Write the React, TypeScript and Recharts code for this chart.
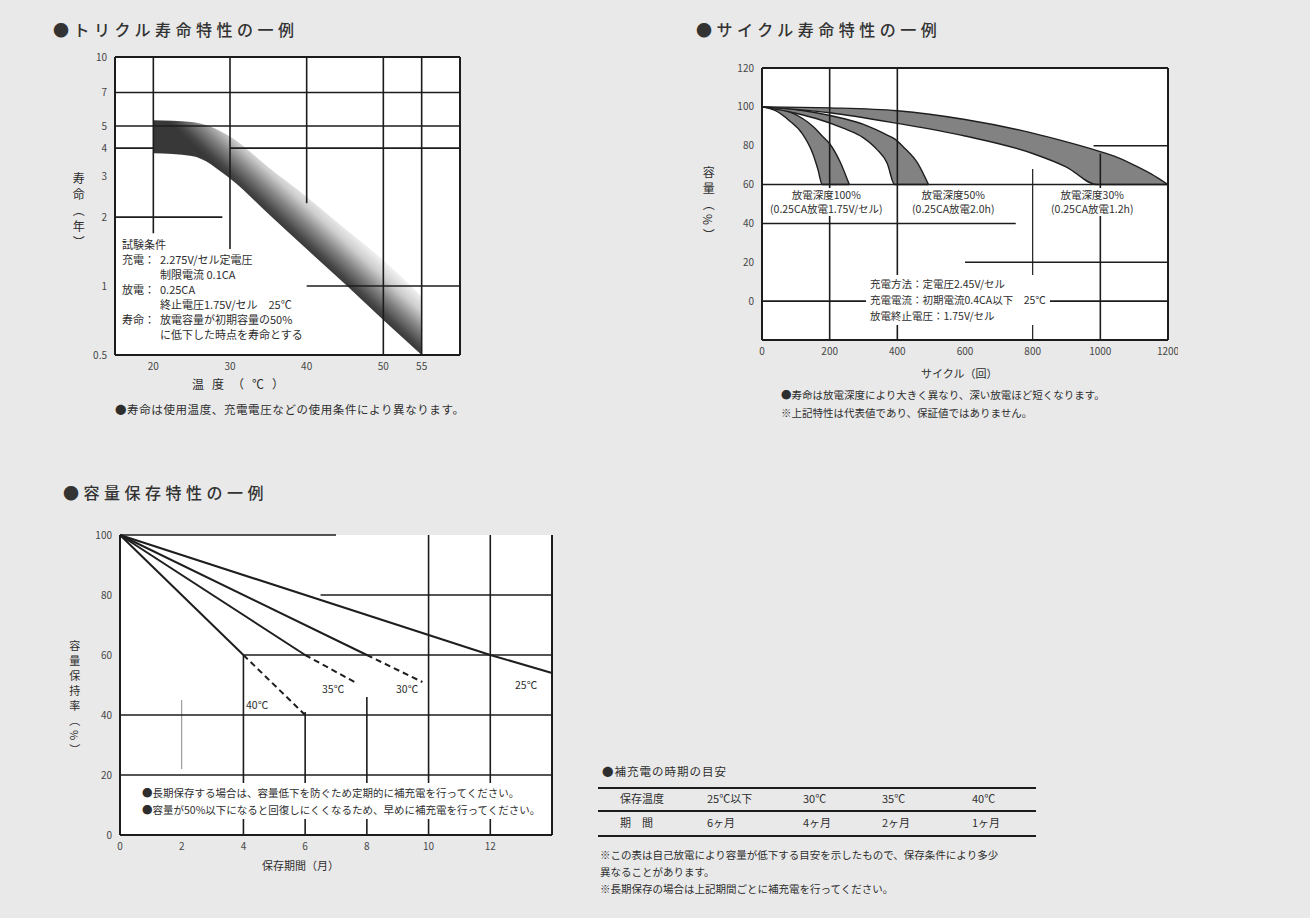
import React from "react";
import { ComposedChart, Area, Line, XAxis, YAxis, ReferenceLine } from "recharts";

const FONT = '"Noto Sans CJK JP", "Noto Sans", sans-serif';
const INK = "#2e2e2e";
const RULE = "#1c1c1c";

// トリクル寿命（温度 ℃ / 寿命 年）
const trickleTemps = [20, 25, 30, 35, 40, 45, 50, 55];
const trickleLow = [3.8, 3.7, 2.95, 2.07, 1.45, 1.02, 0.71, 0.5];
const trickleHigh = [5.3, 5.2, 4.5, 3.3, 2.45, 1.78, 1.3, 0.9];
const trickleTicksX = [20, 30, 40, 50, 55];
const trickleTicksY = [0.5, 1, 2, 3, 4, 5, 7, 10];

// サイクル寿命（サイクル数 / 容量 %）
const cycA = [0, 40, 80, 120, 150, 165, 178, 200, 230, 258];
const cycALow = [100, 98, 93, 86, 76, 68, 60, 60, 60, 60];
const cycAHigh = [100, 99.5, 97.5, 94, 90, 87.5, 85, 81, 72, 60];
const cycB = [0, 80, 160, 240, 300, 340, 370, 392, 420, 460, 492];
const cycBLow = [100, 97.5, 94, 89, 84, 78, 71, 60, 60, 60, 60];
const cycBHigh = [100, 99, 97, 94, 91, 88, 85.5, 83.5, 79, 71, 60];
const cycC = [0, 200, 400, 600, 800, 900, 990, 1050, 1100, 1150, 1200];
const cycCLow = [100, 97, 91.5, 85, 76, 69, 60, 60, 60, 60, 60];
const cycCHigh = [100, 99.5, 98, 93.5, 86.5, 82, 77.5, 74, 70, 65.5, 60];
const cycleTicksX = [0, 200, 400, 600, 800, 1000, 1200];
const cycleTicksY = [0, 20, 40, 60, 80, 100, 120];

// 容量保存（保存期間 月 / 容量保持率 %）
const months40 = [0, 4, 6];
const remain40 = [100, 60, 40];
const months35 = [0, 6, 7.6];
const remain35 = [100, 60, 51];
const months30 = [0, 8, 9.8];
const remain30 = [100, 60, 51];
const months25 = [0, 12, 14];
const remain25 = [100, 60, 54];
const storeTicksX = [0, 2, 4, 6, 8, 10, 12];
const storeTicksY = [0, 20, 40, 60, 80, 100];

const tableHead = ["保存温度", "25℃以下", "30℃", "35℃", "40℃"];
const tableRow = ["期　間", "6ヶ月", "4ヶ月", "2ヶ月", "1ヶ月"];

const tickStyle = { fontSize: 10, fill: "#474747", fontFamily: FONT };
const axisStyle = { stroke: RULE, strokeWidth: 2 };
const margin = { top: 10, right: 10, left: 0, bottom: 0 };

const pts = (xs: number[], ys: number[], from = 0, to = xs.length) =>
  xs.slice(from, to).map((x, i) => ({ x, y: ys[from + i] }));

const band = (xs: number[], lo: number[], hi: number[]) =>
  xs.map((x, i) => ({ x, r: [lo[i], hi[i]] }));

const Txt = ({ x, y, size = 11, style, children }: any) => (
  <div
    style={{
      position: "absolute",
      left: x,
      top: y,
      fontSize: size,
      lineHeight: 1.35,
      color: INK,
      whiteSpace: "nowrap",
      ...style,
    }}
  >
    {children}
  </div>
);

const seg = (x1: number, y1: number, x2: number, y2: number, key: string, w = 1.6, c = RULE) => (
  <ReferenceLine
    key={key}
    segment={[
      { x: x1, y: y1 },
      { x: x2, y: y2 },
    ]}
    stroke={c}
    strokeWidth={w}
  />
);

const TrickleChart = () => (
  <ComposedChart width={400} height={338} data={band(trickleTemps, trickleLow, trickleHigh)} margin={margin}>
    <defs>
      {/* fade runs across the band: dark lower edge, soft upper edge */}
      <linearGradient id="trickleFade" gradientUnits="userSpaceOnUse" x1="236" y1="202" x2="272" y2="163">
        <stop offset="0" stopColor="#383838" />
        <stop offset="0.1" stopColor="#464646" />
        <stop offset="0.35" stopColor="#858585" />
        <stop offset="0.6" stopColor="#cdcdcd" />
        <stop offset="0.85" stopColor="#f4f4f4" />
      </linearGradient>
    </defs>
    <XAxis dataKey="x" type="number" domain={[15, 60]} ticks={trickleTicksX} height={30} tick={tickStyle} tickLine={false} axisLine={axisStyle} />
    <YAxis type="number" scale="log" domain={[0.5, 10]} ticks={trickleTicksY} allowDataOverflow width={45} tick={tickStyle} tickLine={false} axisLine={axisStyle} />
    {seg(20, 1.7, 20, 10, "v20")}
    {seg(30, 1.45, 30, 10, "v30")}
    {seg(40, 2.3, 40, 10, "v40")}
    {seg(50, 0.5, 50, 10, "v50")}
    {seg(55, 0.5, 55, 10, "v55")}
    {seg(15, 7, 60, 7, "h7")}
    {seg(15, 5, 60, 5, "h5")}
    {seg(15, 4, 20, 4, "h4a")}
    {seg(30, 4, 60, 4, "h4b")}
    {seg(15, 2, 29, 2, "h2")}
    {seg(40, 1, 60, 1, "h1")}
    <Area dataKey="r" type="monotone" stroke="none" fill="url(#trickleFade)" fillOpacity={1} isAnimationActive={false} />
    {seg(15, 10, 60, 10, "top", 2)}
    {seg(60, 0.5, 60, 10, "right", 2)}
  </ComposedChart>
);

const bandProps = {
  type: "monotone" as const,
  stroke: "#1e1e1e",
  strokeWidth: 1.4,
  fill: "#828282",
  fillOpacity: 1,
  isAnimationActive: false,
};

const CycleChart = () => (
  <ComposedChart width={461} height={312} margin={margin}>
    <XAxis dataKey="x" type="number" domain={[0, 1200]} ticks={cycleTicksX} height={30} tick={tickStyle} tickLine={false} axisLine={axisStyle} />
    <YAxis type="number" domain={[-20, 120]} ticks={cycleTicksY} allowDataOverflow width={45} tick={tickStyle} tickLine={false} axisLine={axisStyle} />
    {seg(200, -20, 200, 120, "v200")}
    {seg(400, -20, 400, 120, "v400")}
    {seg(800, -20, 800, 68, "v800", 1.2)}
    {seg(1000, -20, 1000, 76, "v1000")}
    {seg(980, 80, 1200, 80, "h80")}
    {seg(0, 60, 1200, 60, "h60")}
    {seg(0, 40, 750, 40, "h40")}
    {seg(600, 20, 1200, 20, "h20")}
    {seg(0, 0, 1200, 0, "h0")}
    <Area data={band(cycA, cycALow, cycAHigh)} dataKey="r" {...bandProps} />
    <Area data={band(cycB, cycBLow, cycBHigh)} dataKey="r" {...bandProps} />
    <Area data={band(cycC, cycCLow, cycCHigh)} dataKey="r" {...bandProps} />
    {seg(0, 120, 1200, 120, "top", 2)}
    {seg(1200, -20, 1200, 120, "right", 2)}
  </ComposedChart>
);

const lineProps = {
  dataKey: "y",
  type: "linear" as const,
  stroke: "#1e1e1e",
  strokeWidth: 2,
  dot: false,
  isAnimationActive: false,
};

const StorageChart = () => (
  <ComposedChart width={487} height={340} margin={margin}>
    <XAxis dataKey="x" type="number" domain={[0, 14]} ticks={storeTicksX} height={30} tick={tickStyle} tickLine={false} axisLine={axisStyle} />
    <YAxis type="number" domain={[0, 100]} ticks={storeTicksY} width={45} tick={tickStyle} tickLine={false} axisLine={axisStyle} />
    {seg(2, 22, 2, 45, "v2", 1, "#8a8a8a")}
    {seg(4, 0, 4, 60, "v4")}
    {seg(6, 0, 6, 41, "v6")}
    {seg(8, 0, 8, 46, "v8")}
    {seg(10, 0, 10, 100, "v10")}
    {seg(12, 0, 12, 100, "v12")}
    {seg(6.5, 80, 14, 80, "h80")}
    {seg(4, 60, 14, 60, "h60")}
    {seg(0, 40, 14, 40, "h40")}
    {seg(0, 20, 14, 20, "h20")}
    <Line data={pts(months40, remain40, 0, 2)} {...lineProps} />
    <Line data={pts(months40, remain40, 1, 3)} {...lineProps} strokeDasharray="6 4" />
    <Line data={pts(months35, remain35, 0, 2)} {...lineProps} />
    <Line data={pts(months35, remain35, 1, 3)} {...lineProps} strokeDasharray="6 4" />
    <Line data={pts(months30, remain30, 0, 2)} {...lineProps} />
    <Line data={pts(months30, remain30, 1, 3)} {...lineProps} strokeDasharray="6 4" />
    <Line data={pts(months25, remain25)} {...lineProps} />
    {seg(0, 100, 7, 100, "top", 1.4)}
    {seg(14, 0, 14, 100, "right", 2)}
  </ComposedChart>
);

const Title = ({ x, y, children }: any) => (
  <Txt x={x} y={y} size={16} style={{ letterSpacing: 4.5, color: "#333", fontWeight: 500 }}>
    {children}
  </Txt>
);

const VLabel = ({ x, y, children, size = 12 }: any) => (
  <Txt x={x} y={y} size={size} style={{ writingMode: "vertical-rl", letterSpacing: 4 }}>
    {children}
  </Txt>
);

const white = { background: "#ffffff" };

export default function App() {
  const colX = [620, 707, 803, 882, 972];
  return (
    <div
      style={{
        position: "absolute",
        left: 0,
        top: 0,
        width: 1310,
        height: 918,
        overflow: "hidden",
        background: "#e9e9e9",
        fontFamily: FONT,
      }}
    >
      {/* plot backgrounds */}
      <div style={{ position: "absolute", left: 115, top: 57, width: 345, height: 298, ...white }} />
      <div style={{ position: "absolute", left: 762, top: 68, width: 406, height: 272, ...white }} />
      <div style={{ position: "absolute", left: 120, top: 535, width: 432, height: 300, ...white }} />

      <Title x={53} y={19}>●トリクル寿命特性の一例</Title>
      <Title x={696} y={19}>●サイクル寿命特性の一例</Title>
      <Title x={63} y={482}>●容量保存特性の一例</Title>

      <div style={{ position: "absolute", left: 70, top: 47 }}>
        <TrickleChart />
      </div>
      <div style={{ position: "absolute", left: 717, top: 58 }}>
        <CycleChart />
      </div>
      <div style={{ position: "absolute", left: 75, top: 525 }}>
        <StorageChart />
      </div>

      {/* chart 1 texts */}
      <VLabel x={70} y={172}>寿命（年）</VLabel>
      <Txt x={192} y={376} size={12} style={{ letterSpacing: 8 }}>温度（℃）</Txt>
      <div
        style={{
          position: "absolute",
          left: 118,
          top: 236,
          padding: "1px 4px 0 4px",
          fontSize: 11,
          lineHeight: "15px",
          color: INK,
          whiteSpace: "nowrap",
          display: "grid",
          gridTemplateColumns: "38px auto",
        }}
      >
        <span style={{ gridColumn: "1 / 3" }}>試験条件</span>
        <span>充電：</span><span>2.275V/セル定電圧</span>
        <span></span><span>制限電流 0.1CA</span>
        <span>放電：</span><span>0.25CA</span>
        <span></span><span>終止電圧1.75V/セル　25℃</span>
        <span>寿命：</span><span>放電容量が初期容量の50%</span>
        <span></span><span>に低下した時点を寿命とする</span>
      </div>
      <Txt x={115} y={402} size={11.5} style={{ letterSpacing: 0.6 }}>
        ●寿命は使用温度、充電電圧などの使用条件により異なります。
      </Txt>

      {/* chart 2 texts */}
      <VLabel x={700} y={166}>容量（%）</VLabel>
      <Txt x={921} y={366} size={11}>サイクル（回）</Txt>
      <Txt x={768} y={188} size={10.5} style={{ ...white, textAlign: "center", padding: "0 2px" }}>
        放電深度100%<br />(0.25CA放電1.75V/セル)
      </Txt>
      <Txt x={908} y={188} size={10.5} style={{ ...white, textAlign: "center", padding: "0 4px" }}>
        放電深度50%<br />(0.25CA放電2.0h)
      </Txt>
      <Txt x={1047} y={188} size={10.5} style={{ ...white, textAlign: "center", padding: "0 4px" }}>
        放電深度30%<br />(0.25CA放電1.2h)
      </Txt>
      <Txt x={866} y={275} size={10.5} style={{ ...white, padding: "1px 4px", lineHeight: "16px" }}>
        充電方法：定電圧2.45V/セル<br />
        充電電流：初期電流0.4CA以下　25℃<br />
        放電終止電圧：1.75V/セル
      </Txt>
      <Txt x={781} y={386} size={10.5} style={{ lineHeight: "18px" }}>
        ●寿命は放電深度により大きく異なり、深い放電ほど短くなります。<br />
        ※上記特性は代表値であり、保証値ではありません。
      </Txt>

      {/* chart 3 texts */}
      <VLabel x={67} y={640} size={11}>容量保持率（%）</VLabel>
      <Txt x={262} y={858} size={11}>保存期間（月）</Txt>
      <Txt x={246} y={698} size={10.5} style={{ background: "#fff" }}>40℃</Txt>
      <Txt x={322} y={682} size={10.5} style={{ background: "#fff" }}>35℃</Txt>
      <Txt x={396} y={682} size={10.5} style={{ background: "#fff" }}>30℃</Txt>
      <Txt x={515} y={678} size={10.5} style={{ background: "#fff" }}>25℃</Txt>
      <Txt x={138} y={783} size={10.5} style={{ ...white, padding: "1px 4px", lineHeight: "17px" }}>
        ●長期保存する場合は、容量低下を防ぐため定期的に補充電を行ってください。<br />
        ●容量が50%以下になると回復しにくくなるため、早めに補充電を行ってください。
      </Txt>

      {/* table */}
      <Txt x={602} y={764} size={11.5} style={{ letterSpacing: 1 }}>●補充電の時期の目安</Txt>
      <div style={{ position: "absolute", left: 598, top: 787, width: 438, height: 2, background: RULE }} />
      <div style={{ position: "absolute", left: 598, top: 810, width: 438, height: 1.5, background: RULE }} />
      <div style={{ position: "absolute", left: 598, top: 835, width: 438, height: 1.5, background: RULE }} />
      {tableHead.map((h, i) => (
        <Txt key={h} x={colX[i]} y={791} size={11}>{h}</Txt>
      ))}
      {tableRow.map((h, i) => (
        <Txt key={h} x={colX[i]} y={815} size={11}>{h}</Txt>
      ))}
      <Txt x={600} y={846} size={10.5} style={{ lineHeight: "17px" }}>
        ※この表は自己放電により容量が低下する目安を示したもので、保存条件により多少<br />
        異なることがあります。<br />
        ※長期保存の場合は上記期間ごとに補充電を行ってください。
      </Txt>
    </div>
  );
}
